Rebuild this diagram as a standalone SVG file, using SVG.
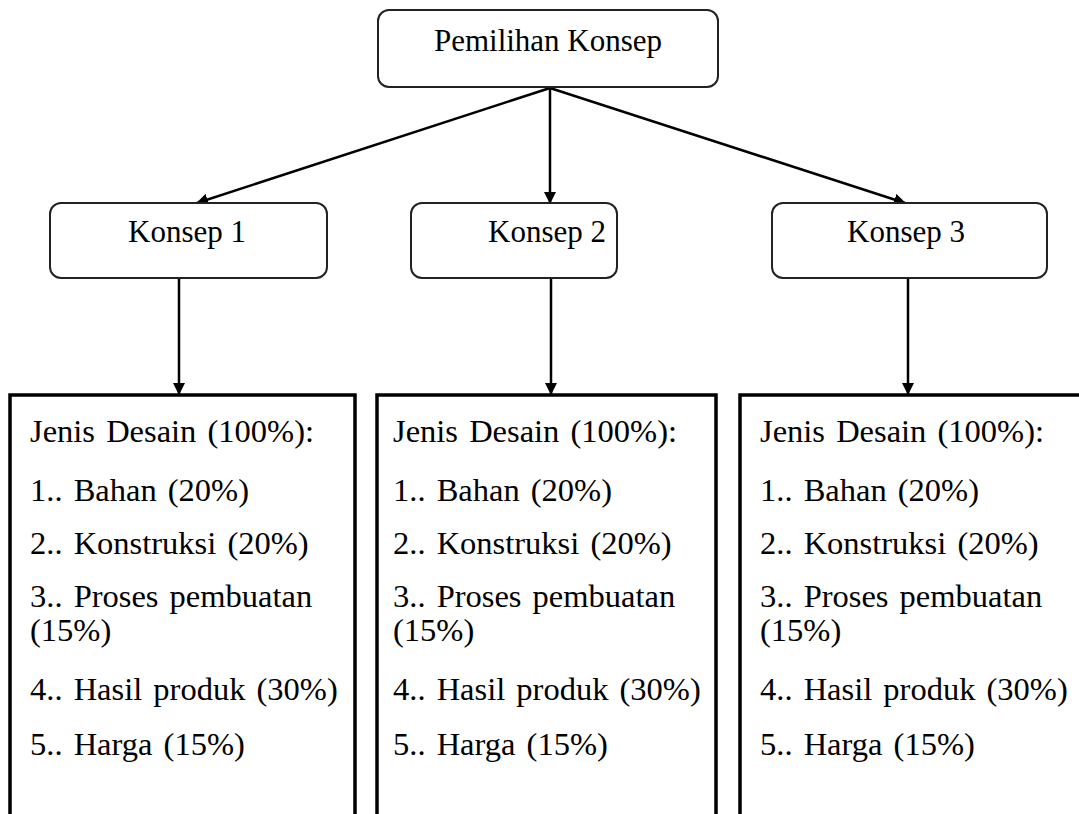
<svg xmlns="http://www.w3.org/2000/svg" width="1079" height="814" viewBox="0 0 1079 814">
<style>
.rbox{fill:#fff;stroke:#222;stroke-width:2}
.cbox{fill:#fff;stroke:#000;stroke-width:3.5}
.t{font-family:'Liberation Serif','Times New Roman',Tinos,serif;font-size:31px;fill:#000}
.k{font-family:'Liberation Serif','Times New Roman',Tinos,serif;font-size:32.5px;word-spacing:3px;fill:#000}
.c{text-anchor:middle}
.ln{stroke:#000;stroke-width:2.5;fill:none}
</style>
<defs>
<marker id="ah" markerWidth="12" markerHeight="12" refX="11" refY="6" orient="auto" markerUnits="userSpaceOnUse">
<path d="M0,0 L12,6 L0,12 Z" fill="#000"/>
</marker>
</defs>
<rect width="1079" height="814" fill="#fff"/>
<g id="connectors">
<line class="ln" x1="550" y1="88" x2="197" y2="203" marker-end="url(#ah)"/>
<line class="ln" x1="550" y1="88" x2="550" y2="203" marker-end="url(#ah)"/>
<line class="ln" x1="550" y1="88" x2="905" y2="203" marker-end="url(#ah)"/>
<line class="ln" x1="179" y1="279" x2="179" y2="394" marker-end="url(#ah)"/>
<line class="ln" x1="551" y1="279" x2="551" y2="394" marker-end="url(#ah)"/>
<line class="ln" x1="908" y1="279" x2="908" y2="394" marker-end="url(#ah)"/>
</g>
<g id="pemilihan">
<rect class="rbox" x="378" y="10" width="340" height="77" rx="11"/>
<text class="t c" x="548" y="51">Pemilihan Konsep</text>
</g>
<g id="konsep1">
<rect class="rbox" x="50" y="203" width="277" height="75" rx="11"/>
<text class="t c" x="187" y="242">Konsep 1</text>
</g>
<g id="konsep2">
<rect class="rbox" x="411" y="203" width="206" height="75" rx="11"/>
<text class="t c" x="547" y="242">Konsep 2</text>
</g>
<g id="konsep3">
<rect class="rbox" x="772" y="203" width="275" height="75" rx="11"/>
<text class="t c" x="906" y="242">Konsep 3</text>
</g>
<g id="kriteria1">
<path class="cbox" d="M10,820 V395 H355 V820"/>
<text class="k" x="30" y="442">Jenis Desain (100%):</text>
<text class="k" x="30" y="501">1.. Bahan (20%)</text>
<text class="k" x="30" y="554">2.. Konstruksi (20%)</text>
<text class="k" x="30" y="607">3.. Proses pembuatan</text>
<text class="k" x="30" y="641">(15%)</text>
<text class="k" x="30" y="700">4.. Hasil produk (30%)</text>
<text class="k" x="30" y="755">5.. Harga (15%)</text>
</g>
<g id="kriteria2">
<path class="cbox" d="M377,820 V395 H716 V820"/>
<text class="k" x="393" y="442">Jenis Desain (100%):</text>
<text class="k" x="393" y="501">1.. Bahan (20%)</text>
<text class="k" x="393" y="554">2.. Konstruksi (20%)</text>
<text class="k" x="393" y="607">3.. Proses pembuatan</text>
<text class="k" x="393" y="641">(15%)</text>
<text class="k" x="393" y="700">4.. Hasil produk (30%)</text>
<text class="k" x="393" y="755">5.. Harga (15%)</text>
</g>
<g id="kriteria3">
<path class="cbox" d="M740,820 V395 H1085"/>
<text class="k" x="760" y="442">Jenis Desain (100%):</text>
<text class="k" x="760" y="501">1.. Bahan (20%)</text>
<text class="k" x="760" y="554">2.. Konstruksi (20%)</text>
<text class="k" x="760" y="607">3.. Proses pembuatan</text>
<text class="k" x="760" y="641">(15%)</text>
<text class="k" x="760" y="700">4.. Hasil produk (30%)</text>
<text class="k" x="760" y="755">5.. Harga (15%)</text>
</g>
</svg>
